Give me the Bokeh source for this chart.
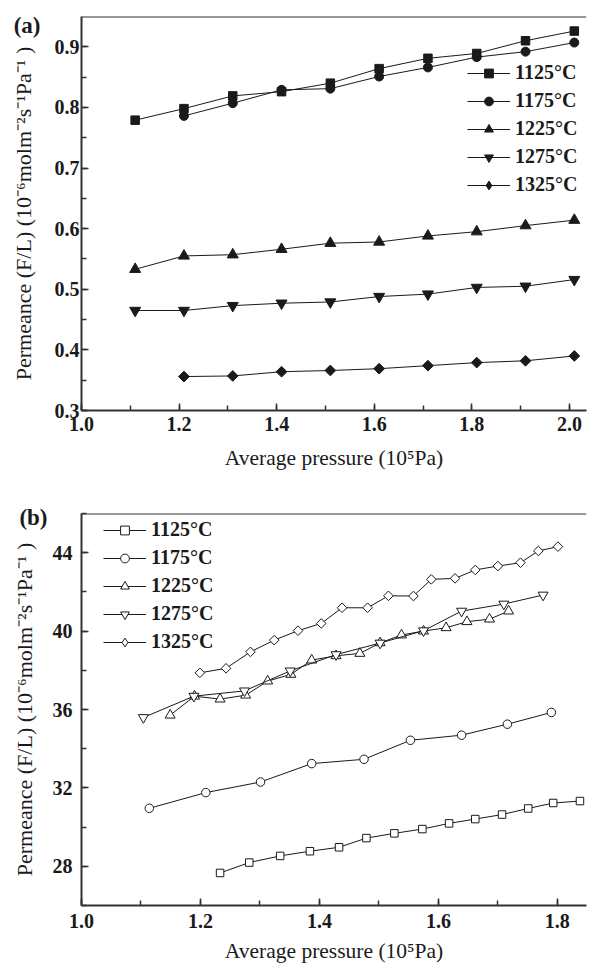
import math
from bokeh.plotting import figure
from bokeh.layouts import column
from bokeh.models import (Legend, LegendItem, SingleIntervalTicker, NumeralTickFormatter,
                          Span, Label, Range1d)
from bokeh.embed import file_html
from bokeh.resources import INLINE

# ---------------- data ----------------
temps = ["1125°C", "1175°C", "1225°C", "1275°C", "1325°C"]

# panel (a)
a_x_1125 = [1.11, 1.21, 1.31, 1.41, 1.51, 1.61, 1.71, 1.81, 1.91, 2.01]
a_y_1125 = [0.779, 0.798, 0.819, 0.826, 0.840, 0.864, 0.881, 0.889, 0.910, 0.926]
a_x_1175 = [1.21, 1.31, 1.41, 1.51, 1.61, 1.71, 1.81, 1.91, 2.01]
a_y_1175 = [0.786, 0.807, 0.829, 0.831, 0.851, 0.866, 0.883, 0.892, 0.907]
a_x_1225 = [1.11, 1.21, 1.31, 1.41, 1.51, 1.61, 1.71, 1.81, 1.91, 2.01]
a_y_1225 = [0.533, 0.555, 0.557, 0.566, 0.576, 0.578, 0.588, 0.595, 0.605, 0.614]
a_x_1275 = [1.11, 1.21, 1.31, 1.41, 1.51, 1.61, 1.71, 1.81, 1.91, 2.01]
a_y_1275 = [0.465, 0.465, 0.473, 0.477, 0.479, 0.488, 0.492, 0.503, 0.505, 0.516]
a_x_1325 = [1.21, 1.31, 1.41, 1.51, 1.61, 1.71, 1.81, 1.91, 2.01]
a_y_1325 = [0.356, 0.357, 0.364, 0.366, 0.369, 0.374, 0.379, 0.382, 0.390]

# panel (b)
b_x_1125 = [1.233, 1.282, 1.334, 1.384, 1.433, 1.479, 1.526, 1.573, 1.618, 1.662, 1.707, 1.751, 1.793, 1.838]
b_y_1125 = [27.66, 28.19, 28.53, 28.77, 28.97, 29.44, 29.68, 29.90, 30.19, 30.41, 30.64, 30.95, 31.23, 31.33]
b_x_1175 = [1.114, 1.209, 1.301, 1.387, 1.475, 1.553, 1.639, 1.716, 1.790]
b_y_1175 = [30.96, 31.76, 32.30, 33.24, 33.46, 34.43, 34.69, 35.25, 35.85]
b_x_1225 = [1.149, 1.190, 1.233, 1.276, 1.313, 1.352, 1.387, 1.428, 1.468, 1.502, 1.538, 1.575, 1.613, 1.648, 1.686, 1.718]
b_y_1225 = [35.71, 36.68, 36.53, 36.73, 37.45, 37.79, 38.52, 38.74, 38.86, 39.40, 39.80, 40.00, 40.17, 40.48, 40.61, 41.02]
b_x_1275 = [1.104, 1.189, 1.274, 1.351, 1.428, 1.502, 1.575, 1.639, 1.710, 1.776]
b_y_1275 = [35.59, 36.68, 36.95, 37.97, 38.80, 39.39, 40.02, 41.02, 41.38, 41.84]
b_x_1325 = [1.199, 1.243, 1.284, 1.324, 1.364, 1.403, 1.438, 1.481, 1.516, 1.558, 1.588, 1.628,
            1.662, 1.700, 1.738, 1.768, 1.801]
b_y_1325 = [37.87, 38.10, 38.94, 39.54, 40.02, 40.39, 41.19, 41.19, 41.80, 41.79, 42.64, 42.69,
            43.12, 43.32, 43.49, 44.09, 44.31]

a_series = [(a_x_1125, a_y_1125), (a_x_1175, a_y_1175), (a_x_1225, a_y_1225),
            (a_x_1275, a_y_1275), (a_x_1325, a_y_1325)]
b_series = [(b_x_1125, b_y_1125), (b_x_1175, b_y_1175), (b_x_1225, b_y_1225),
            (b_x_1275, b_y_1275), (b_x_1325, b_y_1325)]

x_label = "Average pressure (10⁵Pa)"
y_label = "Permeance (F/L) (10⁻⁶molm⁻²s⁻¹Pa⁻¹ )"

FONT = "Liberation Serif"
INK = "#1a1a1a"

markers = ["square", "circle", "triangle", "inverted_triangle", "square"]
angles = [0, 0, 0, 0, math.pi / 4]
legend_markers = ["square", "circle", "triangle", "inverted_triangle", "diamond"]
sizes_a = [8.5, 9, 11, 11, 7.6]
sizes_b = [7.5, 8.5, 10, 10, 6.8]
NAN = float("nan")


def style_axes(p, xint, yint, xfmt, yfmt, x_std, y_std, x_lab_std, y_lab_std):
    p.xaxis.ticker = SingleIntervalTicker(interval=xint, num_minor_ticks=2)
    p.yaxis.ticker = SingleIntervalTicker(interval=yint, num_minor_ticks=2)
    p.xaxis.formatter = NumeralTickFormatter(format=xfmt)
    p.yaxis.formatter = NumeralTickFormatter(format=yfmt)
    for ax in (p.xaxis, p.yaxis):
        ax.axis_line_width = 2
        ax.axis_line_color = "#333333"
        ax.major_tick_in = 7
        ax.major_tick_out = 0
        ax.minor_tick_in = 5
        ax.minor_tick_out = 0
        ax.major_tick_line_width = 1.5
        ax.minor_tick_line_width = 1.5
        ax.major_tick_line_color = "#333333"
        ax.minor_tick_line_color = "#333333"
        ax.major_label_text_font = FONT
        ax.major_label_text_font_style = "bold"
        ax.major_label_text_font_size = "20px"
        ax.major_label_text_color = INK
        ax.axis_label_text_font = FONT
        ax.axis_label_text_font_style = "normal"
        ax.axis_label_text_color = INK
    p.xaxis.axis_label_text_font_size = "21.5px"
    p.yaxis.axis_label_text_font_size = "22px"
    p.xaxis.major_label_standoff = x_std
    p.yaxis.major_label_standoff = y_std
    p.xaxis.axis_label_standoff = x_lab_std
    p.yaxis.axis_label_standoff = y_lab_std
    p.xaxis.axis_label = x_label
    p.yaxis.axis_label = y_label
    p.xgrid.visible = False
    p.ygrid.visible = False
    p.outline_line_color = None


def draw_panel(p, series, sizes, filled, legend_loc):
    items = []
    for i, (xs, ys) in enumerate(series):
        ln = p.line(xs, ys, line_color=INK, line_width=1)
        fill = INK if filled else "white"
        sc = p.scatter(xs, ys, marker=markers[i], size=sizes[i], angle=angles[i],
                       fill_color=fill, line_color=INK, line_width=1)
        if legend_markers[i] != markers[i]:
            # legend-only glyph (no visible point) so the legend shows a diamond
            sc = p.scatter([NAN], [NAN], marker=legend_markers[i], size=sizes[i],
                           fill_color=fill, line_color=INK, line_width=1)
        items.append(LegendItem(label=temps[i], renderers=[ln, sc]))
    leg = Legend(items=items, location=legend_loc, orientation="vertical",
                 border_line_color=None, background_fill_alpha=0,
                 padding=0, margin=0, spacing=5,
                 glyph_width=43, glyph_height=22, label_height=22, label_standoff=5,
                 label_text_font=FONT, label_text_font_style="bold",
                 label_text_font_size="20px", label_text_color=INK)
    p.add_layout(leg)


# ---------------- panel (a) ----------------
# the "(a)" tag lives in the right side panel (side panels are not clipped to the frame);
# the column aligns both frames, so both x ranges are set to keep the reference scale
pa = figure(width=613, height=476, output_backend="svg", toolbar_location=None,
            x_range=Range1d(1.0, 2.035), y_range=Range1d(0.3, 0.95),
            min_border_left=81, min_border_right=0, min_border_top=16, min_border_bottom=66,
            background_fill_color="white", border_fill_color="white")
style_axes(pa, 0.2, 0.1, "0.0", "0.0", 6, 2, 12, 16)
draw_panel(pa, a_series, sizes_a, True, (386, 214))
pa.add_layout(Span(location=0.95, dimension="width", line_color="#333333", line_width=2))
pa.add_layout(Label(x=1.0, y=0.95, x_offset=-41, y_offset=-9, text="(a)",
                    text_align="right", text_baseline="middle",
                    text_font=FONT, text_font_style="bold", text_font_size="23px",
                    text_color=INK),
              "right")

# ---------------- panel (b) ----------------
pb = figure(width=613, height=493, output_backend="svg", toolbar_location=None,
            x_range=Range1d(1.0, 1.849), y_range=Range1d(26, 46),
            min_border_left=81, min_border_right=0, min_border_top=37, min_border_bottom=64,
            background_fill_color="white", border_fill_color="white")
style_axes(pb, 0.2, 4, "0.0", "0", 8, 9, 8, 13)
draw_panel(pb, b_series, sizes_b, False, (22, 252))
pb.add_layout(Span(location=46, dimension="width", line_color="#333333", line_width=2))
pb.add_layout(Label(x=-34, y=-4, x_units="screen", y_units="screen", text="(b)",
                    text_align="right", text_baseline="middle",
                    text_font=FONT, text_font_style="bold", text_font_size="23px",
                    text_color=INK),
              "above")

layout = column(pa, pb, spacing=0)
open("out.html", "w").write(file_html(layout, INLINE))
